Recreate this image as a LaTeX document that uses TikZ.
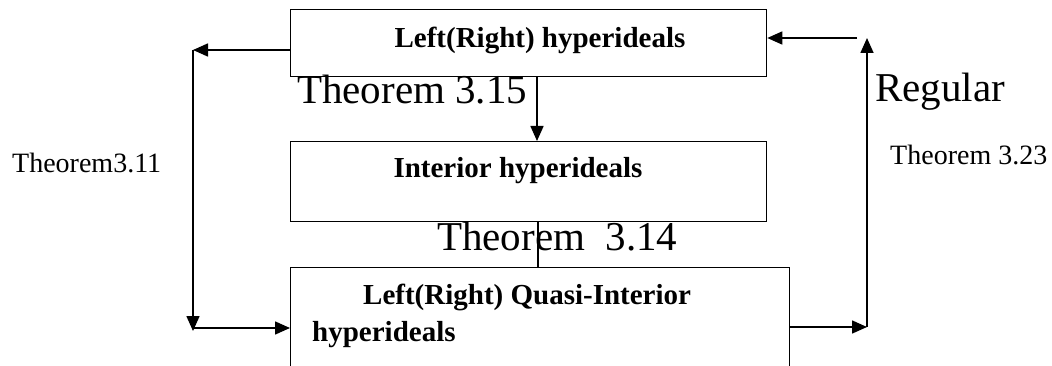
\documentclass[tikz,border=0pt]{standalone}
\usepackage{fontspec}
\setmainfont{Liberation Serif}
\usetikzlibrary{arrows.meta}
\begin{document}
\begin{tikzpicture}[x=1pt,y=-1pt,
  box/.style={draw=black,line width=1.3pt,minimum width=476pt,inner sep=0pt},
  arr/.style={line width=1.6pt,-{Triangle[length=15pt,width=13pt]}},
  ln/.style={line width=1.3pt},
  btxt/.style={font=\fontsize{29}{34}\selectfont\bfseries,inner sep=0pt},
  big/.style={font=\fontsize{41}{46}\selectfont,inner sep=0pt},
  small/.style={font=\fontsize{28}{32}\selectfont,inner sep=0pt}]
\useasboundingbox (0,0) rectangle (1052,366);
\begin{scope}
\clip (0,0) rectangle (1052,366);
\node[box,minimum height=67pt,anchor=north west] (b1) at (290,9) {};
\node[box,minimum height=80pt,anchor=north west] (b2) at (290,141) {};
\node[box,minimum width=499pt,minimum height=120pt,anchor=north west] (b3) at (290,267) {};
\end{scope}
% texts in boxes
\node[btxt,anchor=base] (t1) at (540,48) {Left(Right) hyperideals};
\node[btxt,anchor=base] (t2) at (518,178) {Interior hyperideals};
\node[btxt,anchor=base west] (t3a) at (363,304) {Left(Right) Quasi-Interior};
\node[btxt,anchor=base west] (t3b) at (312,341) {hyperideals};
% labels
\node[big,anchor=base west] (l1) at (297,104) {Theorem 3.15};
\node[big,anchor=base west] (l2) at (437,251) {Theorem\ \ 3.14};
\node[big,anchor=base west] (l3) at (875,102) {Regular};
\node[small,anchor=base west] (l4) at (890,165) {Theorem 3.23};
\node[small,anchor=base west] (l5) at (12,173) {Theorem3.11};
% coordinates
\coordinate (cL1) at (193,50);
\coordinate (cL2) at (193,328);
\coordinate (cR1) at (867,327);
\coordinate (cR2) at (867,38);
\coordinate (cR3) at (857,38);
% connectors
\draw[arr] (b1.west |- cL1) -- (cL1);
\draw[arr] (cL1) -- ([yshift=-3pt]cL2);
\draw[arr] (cL2) -- (b3.west |- cL2);
\draw[arr] (b3.east |- cR1) -- (cR1);
\draw[arr] (cR1) -- (cR2);
\draw[arr] (cR3) -- (b1.east |- cR3);
\draw[arr] (b1.south -| 537,0) -- (b2.north -| 537,0);
\draw[ln] (b2.south -| 538,0) -- (b3.north -| 538,0);
\end{tikzpicture}
\end{document}
